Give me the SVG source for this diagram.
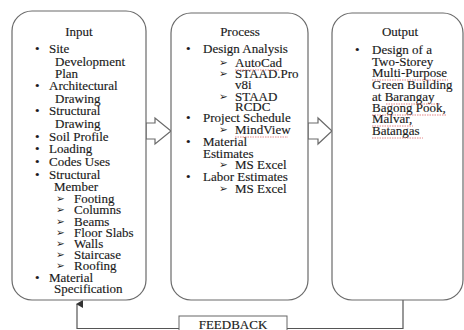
<svg xmlns="http://www.w3.org/2000/svg" width="464" height="330" viewBox="0 0 464 330">
<defs>
<style>
.box{fill:#fff;stroke:#6a6a6a;stroke-width:1.2}
.t{font-family:"Liberation Serif","Times New Roman",serif;font-size:13px;fill:#1a1a1a;stroke:#1a1a1a;stroke-width:0.15}
.c{text-anchor:middle}
.b{font-family:"DejaVu Sans",sans-serif;font-size:10.5px;fill:#1a1a1a}
.sq{stroke:#e07a7a;stroke-width:0.9;stroke-dasharray:1.5 1;fill:none}
.ln{stroke:#555;stroke-width:1.2;fill:none}
</style>
<marker id="ah" markerWidth="8" markerHeight="8" refX="4" refY="1" orient="auto" markerUnits="userSpaceOnUse">
<path d="M0,7 L4,0 L8,7 Z" fill="#333"/>
</marker>
</defs>
<rect width="464" height="330" fill="#fff"/>

<g id="connectors">
<path class="box" d="M146,123 H155 V118 L171,131 L155,144 V139 H146 Z"/>
<path class="box" d="M308,123 H318 V118 L332,131 L318,144 V139 H308 Z"/>
<path class="ln" d="M403,300 V328.5 H77 V304" marker-end="url(#ah)"/>
</g>

<g id="input">
<rect class="box" x="12" y="11" width="134" height="289" rx="20" ry="20"/>
<text class="t c" x="79" y="36">Input</text>
<g class="t">
<text x="35" y="53">•</text><text x="49" y="53">Site</text>
<text x="55" y="65.5">Development</text>
<text x="55" y="77.5">Plan</text>
<text x="35" y="90">•</text><text x="49" y="90">Architectural</text>
<text x="55" y="102.5">Drawing</text>
<text x="35" y="115">•</text><text x="49" y="115">Structural</text>
<text x="55" y="127.5">Drawing</text>
<text x="35" y="140.5">•</text><text x="49" y="140.5">Soil Profile</text>
<text x="35" y="153">•</text><text x="49" y="153">Loading</text>
<text x="35" y="165.5">•</text><text x="49" y="165.5">Codes Uses</text>
<text x="35" y="178.5">•</text><text x="49" y="178.5">Structural</text>
<text x="54" y="190.5">Member</text>
<text x="74" y="202.5">Footing</text>
<text x="74" y="214">Columns</text>
<text x="74" y="225.5">Beams</text>
<text x="74" y="236.5">Floor Slabs</text>
<text x="74" y="247.5">Walls</text>
<text x="74" y="258.5">Staircase</text>
<text x="74" y="270">Roofing</text>
<text x="35" y="281.5">•</text><text x="49" y="281.5">Material</text>
<text x="54" y="293">Specification</text>
</g>
<g class="b">
<text x="56" y="201.5">➢</text>
<text x="56" y="213">➢</text>
<text x="56" y="224.5">➢</text>
<text x="56" y="235.5">➢</text>
<text x="56" y="246.5">➢</text>
<text x="56" y="257.5">➢</text>
<text x="56" y="269">➢</text>
</g>
</g>

<g id="process">
<rect class="box" x="171" y="13" width="137" height="287" rx="20" ry="20"/>
<text class="t c" x="240" y="36">Process</text>
<g class="t">
<text x="186" y="53">•</text><text x="203" y="53">Design Analysis</text>
<text x="235" y="67">AutoCad</text>
<text x="235" y="78">STAAD.Pro</text>
<text x="235" y="89">v8i</text>
<text x="235" y="101">STAAD</text>
<text x="235" y="111">RCDC</text>
<text x="186" y="122">•</text><text x="203" y="122">Project Schedule</text>
<text x="235" y="134">MindView</text>
<text x="186" y="146">•</text><text x="203" y="146">Material</text>
<text x="203" y="158">Estimates</text>
<text x="235" y="169">MS Excel</text>
<text x="186" y="181">•</text><text x="203" y="181">Labor Estimates</text>
<text x="235" y="193">MS Excel</text>
</g>
<g class="b">
<text x="219" y="66">➢</text>
<text x="219" y="77">➢</text>
<text x="219" y="100">➢</text>
<text x="219" y="133">➢</text>
<text x="219" y="168">➢</text>
<text x="219" y="192">➢</text>
</g>
<path class="sq" d="M235,70 H280 M235,137 H288"/>
</g>

<g id="output">
<rect class="box" x="332" y="13" width="131" height="287" rx="20" ry="20"/>
<text class="t c" x="400" y="36">Output</text>
<g class="t">
<text x="355" y="54">•</text><text x="372" y="54">Design of a</text>
<text x="372" y="66">Two-Storey</text>
<text x="372" y="77">Multi-Purpose</text>
<text x="372" y="89">Green Building</text>
<text x="372" y="101">at Barangay</text>
<text x="372" y="112">Bagong Pook,</text>
<text x="372" y="123">Malvar,</text>
<text x="372" y="135">Batangas</text>
</g>
<path class="sq" d="M372,80 H448 M386,104 H441 M372,115 H446 M372,126 H413 M372,138 H423"/>
</g>

<g id="feedback">
<rect x="179" y="316" width="108" height="20" fill="#fff" stroke="#666" stroke-width="1"/>
<text class="t c" x="233" y="328.5">FEEDBACK</text>
</g>
</svg>
